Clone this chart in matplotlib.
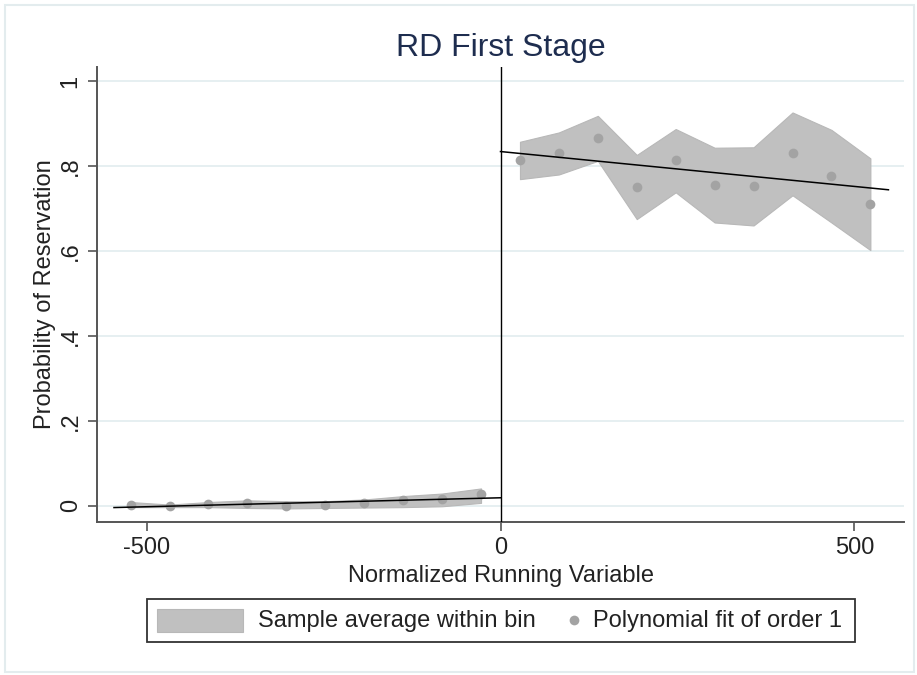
import numpy as np
import matplotlib.pyplot as plt
from matplotlib.patches import Rectangle
from matplotlib.lines import Line2D

plt.rcParams['font.family'] = ['Liberation Sans', 'DejaVu Sans']

# bin centres and sample averages
bins_left = [-522.5, -467.5, -412.5, -357.5, -302.5, -247.5, -192.5, -137.5, -82.5, -27.5]
mean_left = [0.003, 0.000, 0.004, 0.006, 0.000, 0.003, 0.006, 0.013, 0.016, 0.027]
upper_left = [0.009, 0.003, 0.009, 0.013, 0.011, 0.011, 0.015, 0.023, 0.029, 0.041]
lower_left = [-0.003, -0.003, -0.003, -0.005, -0.006, -0.005, -0.004, -0.003, -0.001, 0.007]

bins_right = [27.5, 82.5, 137.5, 192.5, 247.5, 302.5, 357.5, 412.5, 467.5, 522.5]
mean_right = [0.814, 0.831, 0.865, 0.750, 0.815, 0.755, 0.752, 0.831, 0.776, 0.710]
upper_right = [0.857, 0.879, 0.918, 0.826, 0.887, 0.843, 0.844, 0.926, 0.885, 0.818]
lower_right = [0.769, 0.780, 0.812, 0.675, 0.738, 0.667, 0.660, 0.731, 0.667, 0.602]

# linear fit end points
fit_left_x = [-546, 0]
fit_left_y = [-0.004, 0.019]
fit_right_x = [0, 548]
fit_right_y = [0.834, 0.744]

xticks = [-500, 0, 500]
yticks = [0, 0.2, 0.4, 0.6, 0.8, 1.0]
ytick_labels = ['0', '.2', '.4', '.6', '.8', '1']

band_col = '#c0c0c0'
dot_col = '#a3a3a3'
axis_col = '#555555'
text_col = '#222222'

fig = plt.figure(figsize=(9.17, 6.75), dpi=100)
ax = fig.add_axes([97/917, 1 - 522/675, 807/917, 455/675])

for b, lo, hi in [(bins_left, lower_left, upper_left), (bins_right, lower_right, upper_right)]:
    ax.fill_between(b, lo, hi, facecolor=band_col, edgecolor='#b8b8b8', lw=0.8, zorder=2)

ax.plot(bins_left, mean_left, 'o', color=dot_col, ms=7, mew=0, zorder=3)
ax.plot(bins_right, mean_right, 'o', color=dot_col, ms=7, mew=0, zorder=3)

ax.plot(fit_left_x, fit_left_y, color='black', lw=1.1, zorder=4)
ax.plot(fit_right_x, fit_right_y, color='black', lw=1.1, zorder=4)

ax.axvline(0, color='black', lw=1.0, zorder=4)

ax.set_xlim(-570, 570)
ax.set_ylim(-0.038, 1.033)

ax.set_xticks(xticks)
ax.set_xticklabels(['-500', '0', '500'])
ax.set_yticks(yticks)
ax.set_yticklabels(ytick_labels, rotation=90, va='center')
ax.tick_params(axis='both', length=6.5, width=1.2, color=axis_col, labelsize=17,
               labelcolor=text_col, pad=4.5, direction='out')

ax.grid(axis='y', color='#e6eff1', lw=1.4, zorder=0)
ax.set_axisbelow(True)

for s in ['top', 'right']:
    ax.spines[s].set_visible(False)
for s in ['left', 'bottom']:
    ax.spines[s].set_color(axis_col)
    ax.spines[s].set_linewidth(1.4)

ax.set_xlabel('Normalized Running Variable', fontsize=17, color=text_col)
ax.xaxis.label.set_va('baseline')
ax.xaxis.set_label_coords(0.5, -0.131)
ax.set_ylabel('Probability of Reservation', fontsize=17, color=text_col)
ax.yaxis.label.set_va('center')
ax.yaxis.set_label_coords(-0.064, 0.5)

fig.text(500.5/917, 1 - 56/675, 'RD First Stage', ha='center', va='baseline',
         fontsize=23, color='#1e2d4f')

# legend box drawn in figure coordinates
fig.patches.append(Rectangle((146.7/917, 1 - 641.7/675), (855 - 146.7)/917, 42.4/675,
                             transform=fig.transFigure, facecolor='white',
                             edgecolor='#333333', lw=1.3))
fig.patches.append(Rectangle((156.7/917, 1 - 632/675), 86.6/917, 23/675,
                             transform=fig.transFigure, facecolor=band_col,
                             edgecolor='#b8b8b8', lw=0.8))
fig.text(258/917, 1 - 620.5/675, 'Sample average within bin', ha='left', va='center',
         fontsize=17, color=text_col)
fig.lines.append(Line2D([574/917], [1 - 620/675], marker='o', ms=7, mew=0,
                        color=dot_col, transform=fig.transFigure))
fig.text(593/917, 1 - 620.5/675, 'Polynomial fit of order 1', ha='left', va='center',
         fontsize=17, color=text_col)

# outer frame
fig.patches.append(Rectangle((5/917, 1 - 672/675), 909/917, 667/675,
                             transform=fig.transFigure, facecolor='none',
                             edgecolor='#e3ecee', lw=1.5))

plt.savefig('out.png', dpi=100)
